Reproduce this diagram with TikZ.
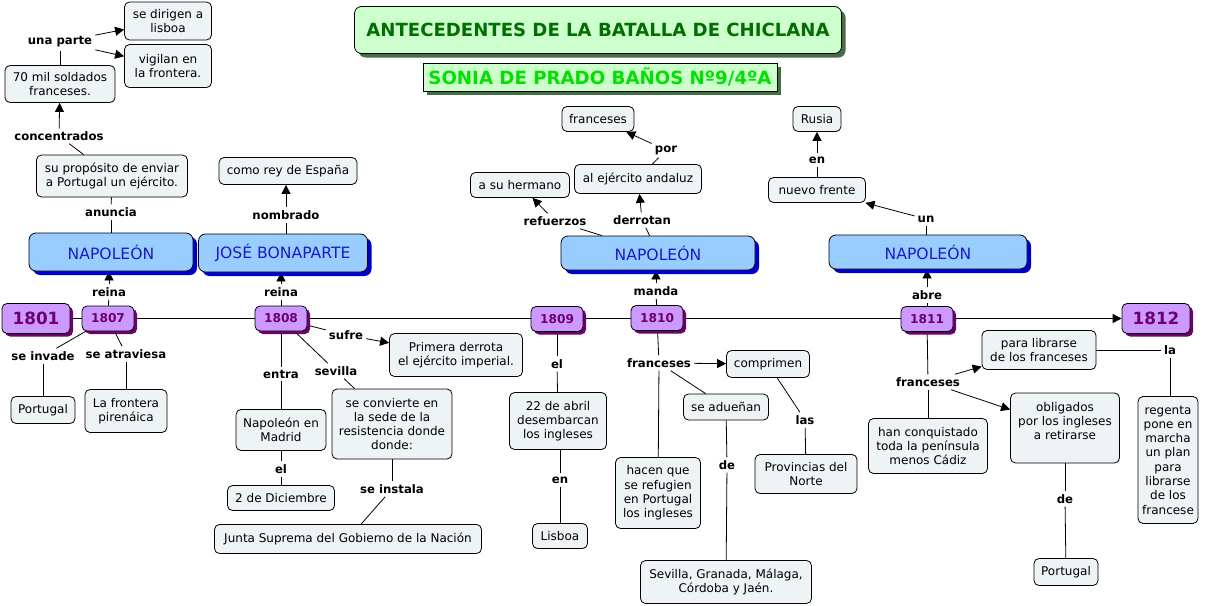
\documentclass[tikz,border=0pt]{standalone}
\usepackage{fontspec}
\setmainfont{DejaVu Sans}
\usetikzlibrary{shadows,arrows.meta}
\pgfdeclarelayer{bg}
\pgfsetlayers{bg,main}
\definecolor{cfill}{RGB}{238,243,245}
\definecolor{bfill}{RGB}{153,204,255}
\definecolor{btext}{RGB}{26,26,204}
\definecolor{bshadow}{RGB}{0,0,204}
\definecolor{yfill}{RGB}{204,153,255}
\definecolor{ytext}{RGB}{110,0,110}
\definecolor{yshadow}{RGB}{110,0,110}
\definecolor{tfill}{RGB}{204,255,204}
\definecolor{ttext}{RGB}{0,110,0}
\definecolor{tshadow}{RGB}{70,110,70}
\definecolor{stext}{RGB}{0,225,0}
\tikzset{
  concept/.style={draw, fill=cfill, rounded corners=5pt, align=center, inner sep=2pt, line width=0.8pt,
    font=\fontsize{12}{14.3}\selectfont},
  lbl/.style={font=\bfseries\fontsize{11.7}{13}\selectfont, inner sep=3pt},
  napo/.style={draw, fill=bfill, text=btext, rounded corners=7pt, line width=0.8pt,
    font=\fontsize{15.6}{17}\selectfont,
    general shadow={fill=bshadow, shadow xshift=4pt, shadow yshift=-4pt}},
  year/.style={draw, fill=yfill, text=ytext, rounded corners=5pt, line width=0.8pt,
    font=\bfseries\fontsize{12.2}{14}\selectfont,
    general shadow={fill=yshadow, shadow xshift=3pt, shadow yshift=-3pt}},
  bigyear/.style={year, font=\bfseries\fontsize{16.8}{19}\selectfont},
  titlebox/.style={draw, fill=tfill, text=ttext, rounded corners=7pt, line width=0.8pt,
    font=\bfseries\fontsize{18.1}{20}\selectfont,
    general shadow={fill=tshadow, shadow xshift=4pt, shadow yshift=-4pt}},
  subbox/.style={draw, fill=tfill, text=stext, line width=0.8pt,
    font=\bfseries\fontsize{18.2}{20}\selectfont,
    general shadow={fill=tshadow, shadow xshift=4pt, shadow yshift=-4pt}},
  conn/.style={line width=0.8pt},
  arr/.style={line width=0.8pt, -{Triangle[length=9pt,width=9pt]}}
}
\begin{document}
\begin{tikzpicture}[x=1pt,y=-1pt]
\useasboundingbox (0,0) rectangle (1207,605);
\begin{pgfonlayer}{bg}
\fill[white] (0,0) rectangle (1207,605);
\end{pgfonlayer}

% titles
\node[titlebox, minimum width=487, minimum height=47] (title) at (598,30) {ANTECEDENTES DE LA BATALLA DE CHICLANA};
\node[subbox, minimum width=354, minimum height=28] (subtitle) at (600,77) {SONIA DE PRADO BAÑOS Nº9/4ºA};

% timeline years
\node[bigyear, minimum width=68, minimum height=30] (y1801) at (36,318.5) {1801};
\node[year, minimum width=52, minimum height=25] (y1807) at (108,318.5) {1807};
\node[year, minimum width=52, minimum height=25] (y1808) at (281,318.5) {1808};
\node[year, minimum width=52, minimum height=25] (y1809) at (557,319) {1809};
\node[year, minimum width=52, minimum height=25] (y1810) at (657,318) {1810};
\node[year, minimum width=52, minimum height=25] (y1811) at (927,319) {1811};
\node[bigyear, minimum width=68, minimum height=30] (y1812) at (1156,318.5) {1812};

% blue nodes
\node[napo, minimum width=164, minimum height=38] (napo1) at (111,252) {NAPOLEÓN};
\node[napo, minimum width=169, minimum height=38] (jose) at (283,253) {JOSÉ BONAPARTE};
\node[napo, minimum width=194, minimum height=34] (napo2) at (658,253) {NAPOLEÓN};
\node[napo, minimum width=198, minimum height=34] (napo3) at (928,252) {NAPOLEÓN};

% concepts left
\node[concept, minimum width=87, minimum height=38] (dirigen) at (168,21) {se dirigen a\\lisboa};
\node[concept, minimum width=87, minimum height=43] (vigilan) at (168,66) {vigilan en\\la frontera.};
\node[concept, minimum width=110, minimum height=37] (mil) at (60,84) {70 mil soldados\\franceses.};
\node[concept, minimum width=151, minimum height=42] (proposito) at (112,176) {su propósito de enviar\\a Portugal un ejército.};
\node[concept, minimum width=138, minimum height=27] (rey) at (288,171) {como rey de España};
\node[concept, minimum width=64, minimum height=27] (portugal1) at (43,410) {Portugal};
\node[concept, minimum width=82, minimum height=43] (pirenaica) at (126,411) {La frontera\\pirenáica};
\node[concept, minimum width=133, minimum height=43] (derrota) at (456,355) {Primera derrota\\el ejército imperial.};
\node[concept, minimum width=90, minimum height=41] (madrid) at (281,430) {Napoleón en\\Madrid};
\node[concept, minimum width=120, minimum height=70] (sede) at (392,424) {se convierte en\\la sede de la\\resistencia donde\\donde:};
\node[concept, minimum width=107, minimum height=25] (diciembre) at (281,498) {2 de Diciembre};
\node[concept, minimum width=267, minimum height=29] (junta) at (348,539) {Junta Suprema del Gobierno de la Nación};

% concepts middle
\node[concept, minimum width=72, minimum height=25] (franc1) at (598,119) {franceses};
\node[concept, minimum width=127, minimum height=29] (andaluz) at (638,179) {al ejército andaluz};
\node[concept, minimum width=99, minimum height=25] (hermano) at (520,185) {a su hermano};
\node[concept, minimum width=97, minimum height=57] (abril) at (558,421) {22 de abril\\desembarcan\\los ingleses};
\node[concept, minimum width=55, minimum height=25] (lisboa) at (560,536) {Lisboa};
\node[concept, minimum width=83, minimum height=27] (comprimen) at (768,364) {comprimen};
\node[concept, minimum width=85, minimum height=26] (aduenan) at (726,407) {se adueñan};
\node[concept, minimum width=85, minimum height=71] (refugien) at (658,493) {hacen que\\se refugien\\en Portugal\\los ingleses};
\node[concept, minimum width=102, minimum height=39] (provincias) at (806,474) {Provincias del\\Norte};
\node[concept, minimum width=171, minimum height=43] (sevilla) at (726,582) {Sevilla, Granada, Málaga,\\Córdoba y Jaén.};

% concepts right
\node[concept, minimum width=48, minimum height=25] (rusia) at (817,119) {Rusia};
\node[concept, minimum width=97, minimum height=25] (frente) at (817,190) {nuevo frente};
\node[concept, minimum width=114, minimum height=39] (librarse) at (1039,350) {para librarse\\de los franceses};
\node[concept, minimum width=119, minimum height=55] (conquistado) at (928,446) {han conquistado\\toda la península\\menos Cádiz};
\node[concept, minimum width=109, minimum height=70] (obligados) at (1065,428) {obligados\\por los ingleses\\a retirarse\\\mbox{}};
\node[concept, minimum width=60, minimum height=127] (regenta) at (1168,460) {regenta\\pone en\\marcha\\un plan\\para\\librarse\\de los\\francese};
\node[concept, minimum width=64, minimum height=27] (portugal2) at (1066,572) {Portugal};

% linking phrases
\node[lbl] (unaparte) at (60,42) {una parte};
\node[lbl] (concentrados) at (59,136) {concentrados};
\node[lbl] (anuncia) at (111,212) {anuncia};
\node[lbl] (nombrado) at (286,215) {nombrado};
\node[lbl] (reina1) at (109,292) {reina};
\node[lbl] (reina2) at (281,292) {reina};
\node[lbl] (seinvade) at (43,356) {se invade};
\node[lbl] (seatraviesa) at (126,354) {se atraviesa};
\node[lbl] (sufre) at (346,335) {sufre};
\node[lbl] (entra) at (281,374) {entra};
\node[lbl] (sevillal) at (336,371) {sevilla};
\node[lbl] (el1) at (281,469) {el};
\node[lbl] (seinstala) at (392,489) {se instala};
\node[lbl] (el2) at (557,364) {el};
\node[lbl] (en1) at (560,480) {en};
\node[lbl] (manda) at (656,291) {manda};
\node[lbl] (refuerzos) at (555,221) {refuerzos};
\node[lbl] (derrotan) at (642,220) {derrotan};
\node[lbl] (por) at (666,150) {por};
\node[lbl] (franl1) at (659,363) {franceses};
\node[lbl] (las) at (805,420) {las};
\node[lbl] (de1) at (727,465) {de};
\node[lbl] (un) at (926,219) {un};
\node[lbl] (en2) at (817,160) {en};
\node[lbl] (abre) at (927,295) {abre};
\node[lbl] (franl2) at (928,382) {franceses};
\node[lbl] (la) at (1170,350) {la};
\node[lbl] (de2) at (1065,499) {de};

\begin{pgfonlayer}{bg}
\draw[arr] (y1801) -- (y1812);
% left
\draw[conn] (mil) -- (unaparte);
\draw[arr] (unaparte) -- (dirigen);
\draw[arr] (unaparte) -- (vigilan);
\draw[conn] (proposito) -- (concentrados);
\draw[arr] (concentrados) -- (mil);
\draw[conn] (napo1) -- (anuncia);
\draw[conn] (anuncia) -- (proposito);
\draw[conn] (jose.north -| nombrado) -- (nombrado);
\draw[arr] (nombrado) -- (rey.south -| nombrado);
\draw[conn] (y1807) -- (reina1);
\draw[arr] (reina1) -- (napo1.south -| reina1);
\draw[conn] (y1808) -- (reina2);
\draw[arr] (reina2) -- (jose.south -| reina2);
\draw[conn] (y1807) -- (seinvade);
\draw[conn] (seinvade) -- (portugal1);
\draw[conn] (y1807) -- (seatraviesa);
\draw[conn] (seatraviesa) -- (pirenaica);
\draw[conn] (y1808) -- (sufre);
\draw[arr] (sufre) -- (derrota);
\draw[conn] (y1808) -- (entra);
\draw[conn] (entra) -- (madrid);
\draw[conn] (y1808) -- (sevillal);
\draw[conn] (sevillal) -- (sede);
\draw[conn] (madrid) -- (el1);
\draw[conn] (el1) -- (diciembre);
\draw[conn] (sede) -- (seinstala);
\draw[conn] (seinstala) -- (junta);
% middle
\draw[conn] (y1809) -- (el2);
\draw[conn] (el2) -- (abril);
\draw[conn] (abril.south -| en1) -- (en1);
\draw[conn] (en1) -- (lisboa);
\draw[conn] (y1810) -- (manda);
\draw[arr] (manda) -- (napo2.south -| manda);
\draw[conn] (napo2) -- (refuerzos);
\draw[arr] (refuerzos) -- (hermano);
\draw[conn] (napo2) -- (derrotan);
\draw[arr] (derrotan) -- (andaluz);
\draw[conn] (andaluz) -- (por);
\draw[arr] (por) -- (franc1);
\draw[conn] (y1810) -- (franl1);
\draw[arr] (franl1) -- (comprimen);
\draw[conn] (franl1) -- (aduenan);
\draw[conn] (franl1) -- (refugien);
\draw[conn] (aduenan) -- (de1);
\draw[conn] (de1) -- (sevilla);
\draw[conn] (comprimen) -- (las);
\draw[conn] (las) -- (provincias);
% right
\draw[conn] (y1811) -- (abre);
\draw[arr] (abre) -- (napo3.south -| abre);
\draw[conn] (napo3.north -| un) -- (un);
\draw[arr] (un) -- (frente);
\draw[conn] (frente) -- (en2);
\draw[arr] (en2) -- (rusia);
\draw[conn] (y1811) -- (franl2);
\draw[arr] (franl2) -- (librarse);
\draw[arr] (franl2) -- (obligados);
\draw[conn] (franl2) -- (conquistado);
\draw[conn] (librarse) -- (la);
\draw[conn] (la) -- (regenta.north -| la);
\draw[conn] (obligados) -- (de2);
\draw[conn] (de2) -- (portugal2);
\end{pgfonlayer}
\end{tikzpicture}
\end{document}
